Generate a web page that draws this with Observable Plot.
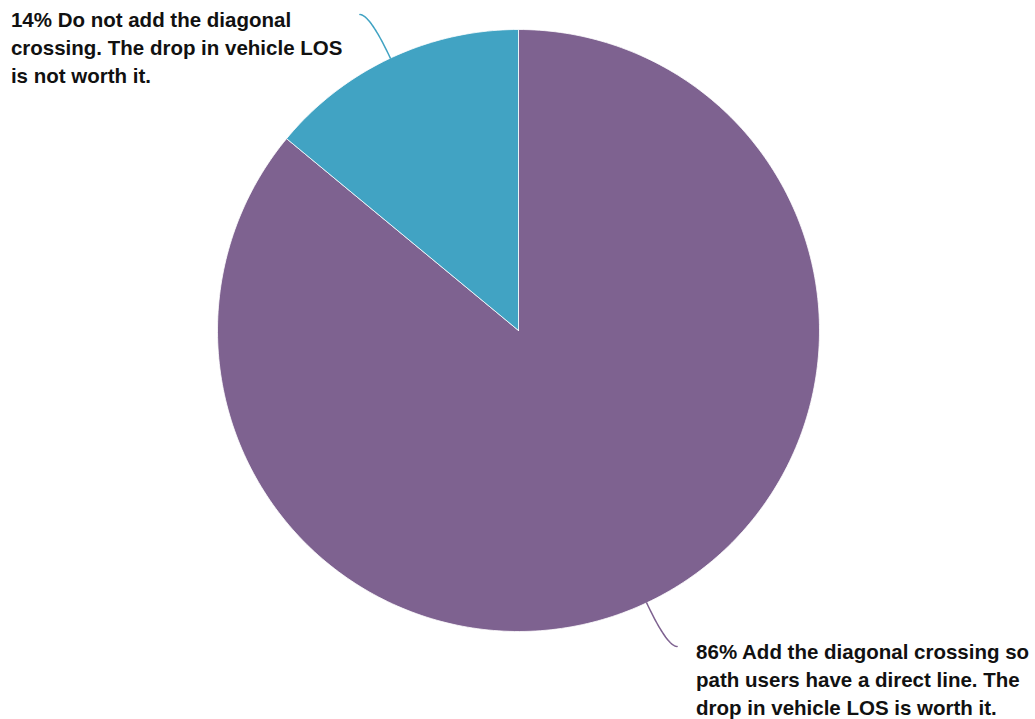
<!DOCTYPE html>
<html>
<head>
<meta charset="utf-8">
<script src="https://cdn.jsdelivr.net/npm/d3@7"></script>
<script src="https://cdn.jsdelivr.net/npm/@observablehq/plot@0.6"></script>
<style>
  html, body { margin: 0; padding: 0; background: #fff; overflow: hidden; }
  #chart svg { display: block; }
</style>
</head>
<body>
<div id="chart"></div>
<script>
// ---- data ----
const categories = [
  "Add the diagonal crossing so\npath users have a direct line. The\ndrop in vehicle LOS is worth it.",
  "Do not add the diagonal\ncrossing. The drop in vehicle LOS\nis not worth it."
];
const shares = [86, 14];
const colors = ["#7e6290", "#41a3c3"];

// ---- layout ----
const W = 1035, H = 719;
const cx = 518, cy = 330, R = 301;   // pixel geometry of the pie
const total = d3.sum(shares);

let acc = 0;
const slices = shares.map((v, i) => {
  const a0 = acc / total * 2 * Math.PI;
  acc += v;
  const a1 = acc / total * 2 * Math.PI;
  return {i, value: v, a0, a1, mid: (a0 + a1) / 2, color: colors[i],
          label: `${v}% ${categories[i]}`};
});

// arc polygon in unit coordinates (angle clockwise from top, y up)
function arcPoints(s) {
  const pts = [{x: 0, y: 0}];
  const n = Math.max(8, Math.ceil((s.a1 - s.a0) / (2 * Math.PI) * 360));
  for (let k = 0; k <= n; k++) {
    const a = s.a0 + (s.a1 - s.a0) * k / n;
    pts.push({x: Math.sin(a), y: Math.cos(a)});
  }
  pts.push({x: 0, y: 0});
  return pts;
}

// connector: quadratic curve from the arc edge, outwards, then horizontal
function connector(s) {
  const sx = Math.sin(s.mid), sy = Math.cos(s.mid);
  const side = sx < 0 ? -1 : 1;
  const p0 = {x: sx, y: sy};
  const c = {x: sx * 1.16, y: sy * 1.16};
  const p2 = {x: c.x + side * 0.033, y: c.y};
  const pts = [];
  for (let k = 0; k <= 30; k++) {
    const t = k / 30, u = 1 - t;
    pts.push({x: u*u*p0.x + 2*u*t*c.x + t*t*p2.x,
              y: u*u*p0.y + 2*u*t*c.y + t*t*p2.y});
  }
  return {pts, end: p2, side};
}

const conns = slices.map(s => ({s, ...connector(s)}));
const leftLabels = conns.filter(d => d.side < 0).map(d => ({x: d.end.x, y: d.end.y, label: d.s.label}));
const rightLabels = conns.filter(d => d.side > 0).map(d => ({x: d.end.x, y: d.end.y, label: d.s.label}));

const font = "'Liberation Sans', Arial, Helvetica, sans-serif";
const textOpts = {
  x: "x", y: "y", text: "label", textAnchor: "start", lineAnchor: "top",
  fontSize: 20.5, fontWeight: "bold", lineHeight: 1.38, fill: "#111", fontFamily: font
};

const chart = Plot.plot({
  width: W, height: H,
  margin: 0,
  style: {background: "#fff", fontFamily: font},
  x: {domain: [-cx / R, (W - cx) / R], range: [0, W], axis: null},
  y: {domain: [-(H - cy) / R, cy / R], range: [H, 0], axis: null},
  marks: [
    ...slices.map(s => Plot.line(arcPoints(s), {
      x: "x", y: "y", fill: s.color, stroke: "#fff", strokeWidth: 0.8,
      strokeLinejoin: "round", curve: "linear"
    })),
    ...conns.map(d => Plot.line(d.pts, {
      x: "x", y: "y", stroke: d.s.color, strokeWidth: 1.5, curve: "linear"
    })),
    Plot.text(leftLabels, {...textOpts, dx: -349, dy: -8}),
    Plot.text(rightLabels, {...textOpts, dx: 19, dy: -8})
  ]
});
document.getElementById("chart").appendChild(chart);
</script>
</body>
</html>
